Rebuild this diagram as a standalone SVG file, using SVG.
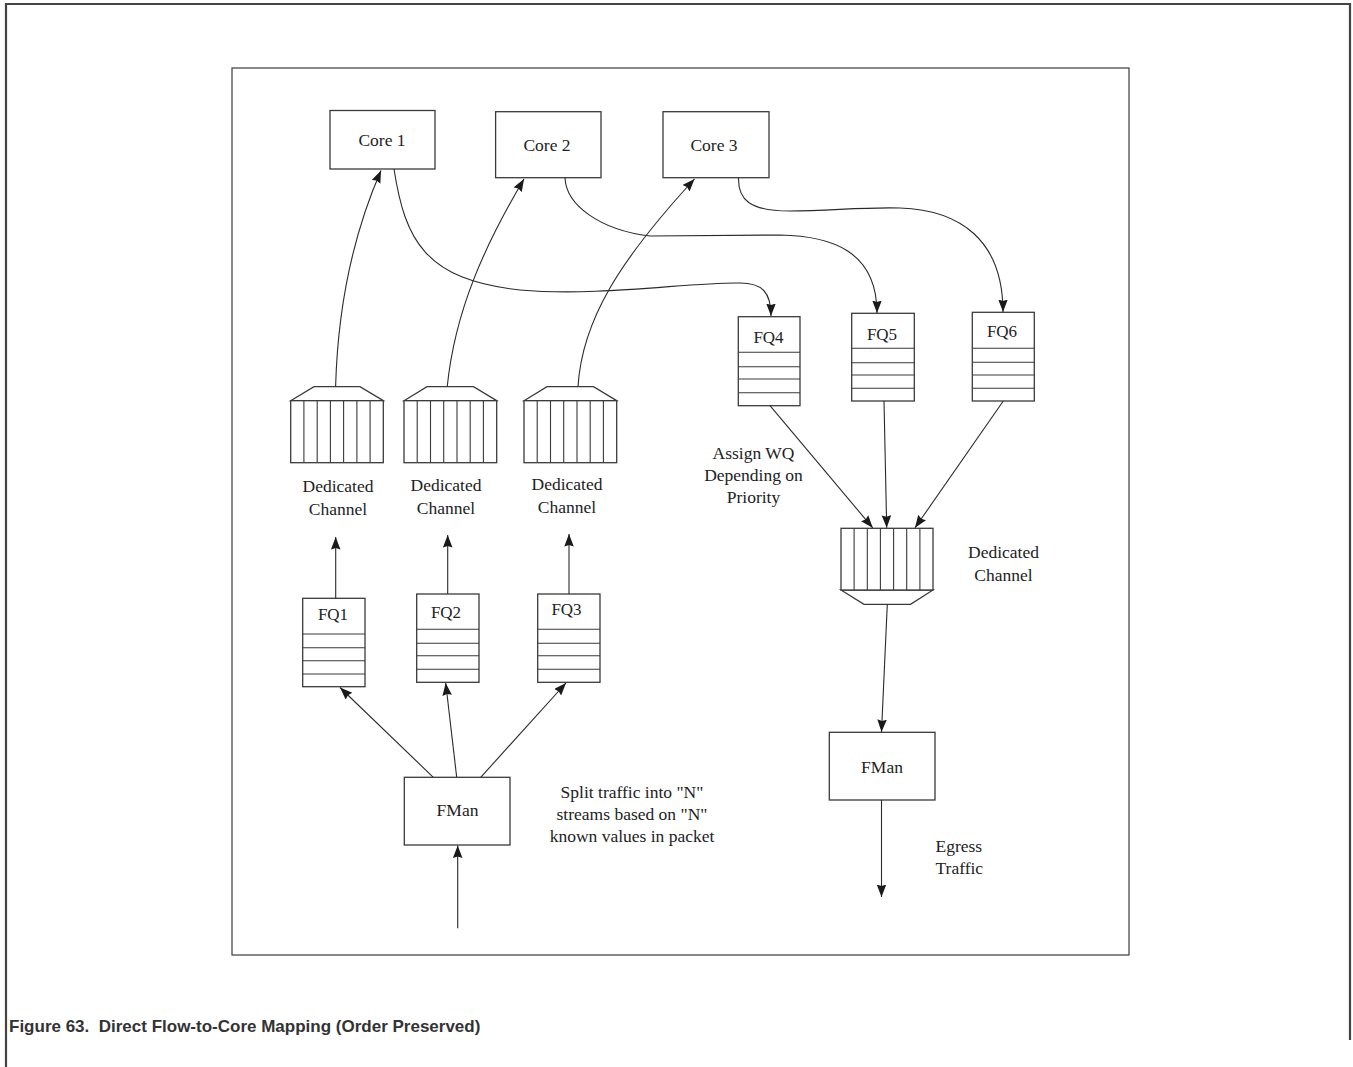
<svg xmlns="http://www.w3.org/2000/svg" width="1353" height="1067" viewBox="0 0 1353 1067">
<defs>
<marker id="ah" markerUnits="userSpaceOnUse" markerWidth="14" markerHeight="11" refX="12.5" refY="4.75" orient="auto">
<path d="M0,0 L12.5,4.75 L0,9.5 L1.5,4.75 z" fill="#1a1a1a"/>
</marker>
<style>
.box{fill:#fff;stroke:#3a3a3a;stroke-width:1.3}
.dv{fill:none;stroke:#3a3a3a;stroke-width:1.1}
.ln{fill:none;stroke:#2a2a2a;stroke-width:1.1}
.ar{fill:none;stroke:#2a2a2a;stroke-width:1.1;marker-end:url(#ah)}
.t{font-family:"Liberation Serif","Times New Roman",serif;font-size:17.5px;fill:#222;text-anchor:middle}
.tl{font-family:"Liberation Serif","Times New Roman",serif;font-size:17.5px;fill:#222}
.fq{font-family:"Liberation Serif","Times New Roman",serif;font-size:17px;fill:#222;text-anchor:middle}
.cap{font-family:"Liberation Sans",Arial,sans-serif;font-weight:bold;font-size:17px;fill:#333}
.frame{fill:none;stroke:#444;stroke-width:2.2}
</style>
</defs>
<rect width="1353" height="1067" fill="#fff"/>
<g id="page-border">
<path class="frame" d="M6,1067 L6,4 L1350,4 L1350,1040"/>
</g>
<g id="figure-frame">
<rect x="232" y="68" width="897" height="887" fill="none" stroke="#3a3a3a" stroke-width="1.2"/>
</g>

<g id="core1"><rect class="box" x="330" y="110.5" width="105" height="58.5"/><text class="t" x="382" y="146">Core 1</text></g>
<g id="core2"><rect class="box" x="495.6" y="111.7" width="105.4" height="66"/><text class="t" x="547" y="151">Core 2</text></g>
<g id="core3"><rect class="box" x="663" y="111.7" width="106" height="66"/><text class="t" x="714" y="151">Core 3</text></g>

<g id="channel1">
<path class="box" d="M290.7,400.7 L314,386.7 L360,386.7 L383.3,400.7 Z"/>
<rect class="box" x="290.7" y="400.7" width="92.6" height="62"/>
<path class="dv" d="M303.9,400.7V462.7M317.2,400.7V462.7M330.4,400.7V462.7M343.6,400.7V462.7M356.9,400.7V462.7M370.1,400.7V462.7"/>
<text class="t" x="338" y="491.5">Dedicated</text><text class="t" x="338" y="514.5">Channel</text>
</g>
<g id="channel2">
<path class="box" d="M404,400.7 L427,386.7 L473.5,386.7 L496.7,400.7 Z"/>
<rect class="box" x="404" y="400.7" width="92.7" height="62"/>
<path class="dv" d="M417.2,400.7V462.7M430.5,400.7V462.7M443.7,400.7V462.7M457,400.7V462.7M470.2,400.7V462.7M483.4,400.7V462.7"/>
<text class="t" x="446" y="490.5">Dedicated</text><text class="t" x="446" y="513.5">Channel</text>
</g>
<g id="channel3">
<path class="box" d="M524,400.7 L547,386.7 L593.5,386.7 L616.7,400.7 Z"/>
<rect class="box" x="524" y="400.7" width="92.7" height="62"/>
<path class="dv" d="M537.2,400.7V462.7M550.5,400.7V462.7M563.7,400.7V462.7M577,400.7V462.7M590.2,400.7V462.7M603.4,400.7V462.7"/>
<text class="t" x="567" y="490">Dedicated</text><text class="t" x="567" y="512.5">Channel</text>
</g>
<g id="channel4">
<path class="box" d="M841,590 L864,604.3 L910.5,604.3 L933,590 Z"/>
<rect class="box" x="841" y="528.3" width="92" height="61.7"/>
<path class="dv" d="M854.1,528.3V590M867.3,528.3V590M880.4,528.3V590M893.6,528.3V590M906.7,528.3V590M919.9,528.3V590"/>
</g>

<g id="fq1"><rect class="box" x="302.7" y="598.3" width="62.3" height="88.4"/><path class="dv" d="M302.7,634H365M302.7,647.7H365M302.7,660.7H365M302.7,674H365"/><text class="fq" x="333" y="620">FQ1</text></g>
<g id="fq2"><rect class="box" x="416.7" y="594" width="62.3" height="88.3"/><path class="dv" d="M416.7,629.3H479M416.7,643.3H479M416.7,655.7H479M416.7,669.3H479"/><text class="fq" x="446" y="617.5">FQ2</text></g>
<g id="fq3"><rect class="box" x="537.7" y="594" width="62.3" height="88.3"/><path class="dv" d="M537.7,629.3H600M537.7,643.3H600M537.7,655.7H600M537.7,669.3H600"/><text class="fq" x="566.5" y="615">FQ3</text></g>
<g id="fq4"><rect class="box" x="738.3" y="316.7" width="61.7" height="89"/><path class="dv" d="M738.3,352.3H800M738.3,366.7H800M738.3,379H800M738.3,392.7H800"/><text class="fq" x="768.5" y="343">FQ4</text></g>
<g id="fq5"><rect class="box" x="851.7" y="313.3" width="62.6" height="87.7"/><path class="dv" d="M851.7,348.3H914.3M851.7,362.7H914.3M851.7,375H914.3M851.7,388.3H914.3"/><text class="fq" x="882" y="340">FQ5</text></g>
<g id="fq6"><rect class="box" x="972.3" y="312.3" width="62" height="88.7"/><path class="dv" d="M972.3,348.3H1034.3M972.3,362.3H1034.3M972.3,375H1034.3M972.3,388.3H1034.3"/><text class="fq" x="1002" y="336.5">FQ6</text></g>

<g id="fman-in"><rect class="box" x="404.3" y="777.3" width="105.7" height="67.7"/><text class="t" x="457.5" y="816">FMan</text></g>
<g id="fman-out"><rect class="box" x="829.3" y="732.3" width="105.7" height="67.7"/><text class="t" x="882" y="773">FMan</text></g>

<g id="labels">
<text class="t" x="753.5" y="459">Assign WQ</text>
<text class="t" x="753.5" y="481">Depending on</text>
<text class="t" x="753.5" y="503">Priority</text>
<text class="t" x="1003.5" y="558">Dedicated</text>
<text class="t" x="1003.5" y="580.5">Channel</text>
<text class="t" x="632" y="798">Split traffic into "N"</text>
<text class="t" x="632" y="820">streams based on "N"</text>
<text class="t" x="632" y="842">known values in packet</text>
<text class="tl" x="935.5" y="852">Egress</text>
<text class="tl" x="935.5" y="874">Traffic</text>
</g>

<g id="connectors">
<path class="ar" d="M335.6,386.7 C338,300 355,230 381,170.5"/>
<path class="ar" d="M447.2,386.7 C455,310 485,245 524,179"/>
<path class="ar" d="M578,386.7 C582,320 620,260 694.5,179"/>
<path class="ar" d="M394,169 C405,240 425,280 520,290 C600,297 690,282 740,283 C762,283 771,292 771,316"/>
<path class="ar" d="M565,177.7 C566,205 600,230 650,236 L780,235 C830,236 877,250 877,313"/>
<path class="ar" d="M738.5,177.7 C738,200 750,211 790,211 C830,211 860,207 900,208 C960,210 1003,240 1003,312"/>
<path class="ar" d="M335.7,598.3 L335.7,537"/>
<path class="ar" d="M447.7,594 L447.7,535"/>
<path class="ar" d="M569,594 L569,534"/>
<path class="ar" d="M433.3,777.3 L340,687.5"/>
<path class="ar" d="M456.7,777.3 L445.7,683"/>
<path class="ar" d="M480.7,777.3 L566,683"/>
<path class="ar" d="M457.7,928.3 L457.7,845.5"/>
<path class="ar" d="M770,405.7 L872.7,527.8"/>
<path class="ar" d="M884,401 L886.7,527.8"/>
<path class="ar" d="M1003.3,401 L915,527.8"/>
<path class="ar" d="M887.3,604.3 L881.5,732"/>
<path class="ar" d="M881.5,800 L881.5,897"/>
</g>

<g id="caption">
<text class="cap" x="9" y="1032" xml:space="preserve">Figure 63.  Direct Flow-to-Core Mapping (Order Preserved)</text>
</g>
</svg>
